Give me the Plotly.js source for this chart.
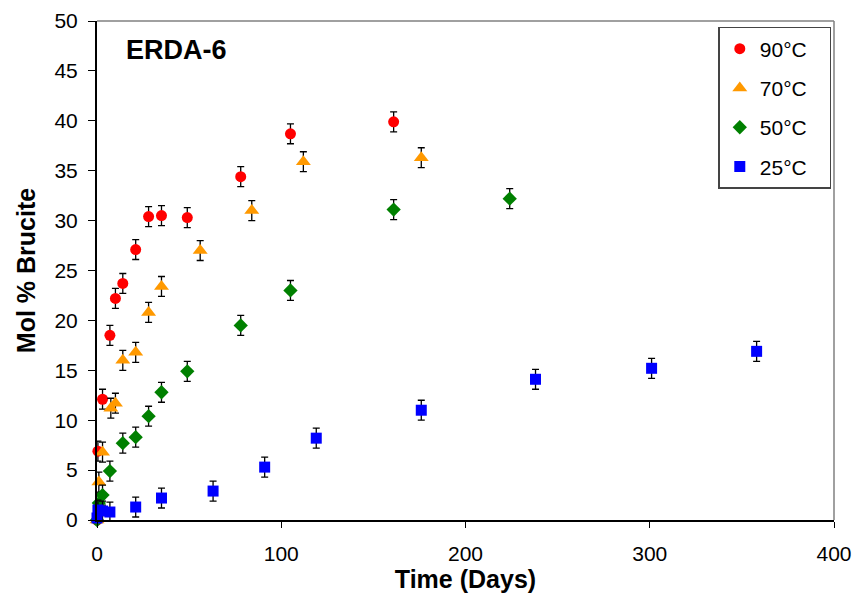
<!DOCTYPE html>
<html>
<head>
<meta charset="utf-8">
<script src="https://cdn.plot.ly/plotly-3.0.1.min.js"></script>
<style>html,body{margin:0;padding:0;background:#fff;}#chart{width:856px;height:596px;}</style>
</head>
<body>
<div id="chart"></div>
<script>
// Days and Mol % Brucite per temperature series
const days90 = [0, 0.5, 3, 7, 10, 14, 21, 28, 35, 49, 78, 105, 161];
const vals90 = [0, 6.9, 12.1, 18.5, 22.2, 23.7, 27.1, 30.4, 30.5, 30.3, 34.4, 38.7, 39.9];

const days70 = [0, 1, 3, 7.5, 10, 14, 21, 28, 35, 56, 84, 112, 176];
const vals70 = [0, 3.8, 6.8, 11.2, 11.7, 16.0, 16.8, 20.8, 23.4, 27.0, 31.0, 35.9, 36.3];

const days50 = [0, 1, 3, 7, 14, 21, 28, 35, 49, 78, 105, 161, 224];
const vals50 = [0, 1.7, 2.5, 4.9, 7.7, 8.3, 10.4, 12.8, 14.9, 19.5, 23.0, 31.1, 32.2];

const days25 = [0, 0.5, 3, 7, 21, 35, 63, 91, 119, 176, 238, 301, 358];
const vals25 = [0.2, 1.0, 0.9, 0.8, 1.3, 2.2, 2.9, 5.3, 8.2, 11.0, 14.1, 15.2, 16.9];

const errSize = 1.0;

const seriesNames = ['90°C', '70°C', '50°C', '25°C'];
const seriesColors = ['#ff0000', '#ff9900', '#008000', '#0000ff'];
const seriesSymbols = ['circle', 'triangle-up', 'diamond', 'square'];
const seriesX = [days90, days70, days50, days25];
const seriesY = [vals90, vals70, vals50, vals25];
const markerSizes = [11, 13, 11, 11];

// trailing non-breaking spaces widen the legend box to match the reference
const pad = '\u00a0\u00a0\u00a0';

const traces = seriesNames.map((n, i) => ({
  type: 'scatter',
  mode: 'markers',
  name: n + pad,
  legendgroup: 'g' + i,
  x: seriesX[i],
  y: seriesY[i],
  marker: {color: seriesColors[i], symbol: seriesSymbols[i], size: markerSizes[i]},
  error_y: {type: 'constant', value: errSize, color: '#000', thickness: 1.3, width: 3.5},
  cliponaxis: false
}));

const layout = {
  width: 856, height: 596,
  margin: {l: 97, r: 22, t: 21, b: 76},
  paper_bgcolor: '#fff', plot_bgcolor: '#fff',
  font: {family: 'Liberation Sans, Arial, sans-serif', color: '#000'},
  showlegend: true,
  legend: {
    x: 0.843, y: 0.988, xanchor: 'left', yanchor: 'top',
    bgcolor: '#fff', bordercolor: '#444', borderwidth: 1.5,
    font: {size: 21, family: 'Liberation Sans, Arial, sans-serif'},
    traceorder: 'grouped', tracegroupgap: 9
  },
  xaxis: {
    range: [0, 400], dtick: 100, tick0: 0,
    showgrid: false, zeroline: false,
    showline: true, linecolor: '#000', linewidth: 2,
    ticks: 'outside', ticklen: 6, tickcolor: '#000', tickwidth: 1,
    tickfont: {size: 21}, ticklabelstandoff: 8,
    title: {text: '<b>Time (Days)</b>', font: {size: 25}, standoff: 4}
  },
  yaxis: {
    range: [0, 50], dtick: 5, tick0: 0,
    showgrid: false, zeroline: false,
    showline: true, linecolor: '#000', linewidth: 2,
    ticks: 'outside', ticklen: 7, tickcolor: '#000', tickwidth: 1,
    tickfont: {size: 21}, ticklabelstandoff: 6,
    title: {text: '<b>Mol % Brucite</b>', font: {size: 25}, standoff: 12}
  },
  shapes: [
    {type: 'line', xref: 'paper', yref: 'paper', x0: 0, x1: 1, y0: 1, y1: 1, line: {color: '#808080', width: 1.5}},
    {type: 'line', xref: 'paper', yref: 'paper', x0: 1, x1: 1, y0: 0, y1: 1, line: {color: '#808080', width: 1.5}}
  ],
  annotations: [
    {text: '<b>ERDA-6</b>', xref: 'paper', yref: 'paper', x: 0.036, y: 0.942, xanchor: 'left', yanchor: 'middle',
     showarrow: false, font: {size: 27}}
  ]
};

Plotly.newPlot('chart', traces, layout, {displayModeBar: false, staticPlot: true});
</script>
</body>
</html>
